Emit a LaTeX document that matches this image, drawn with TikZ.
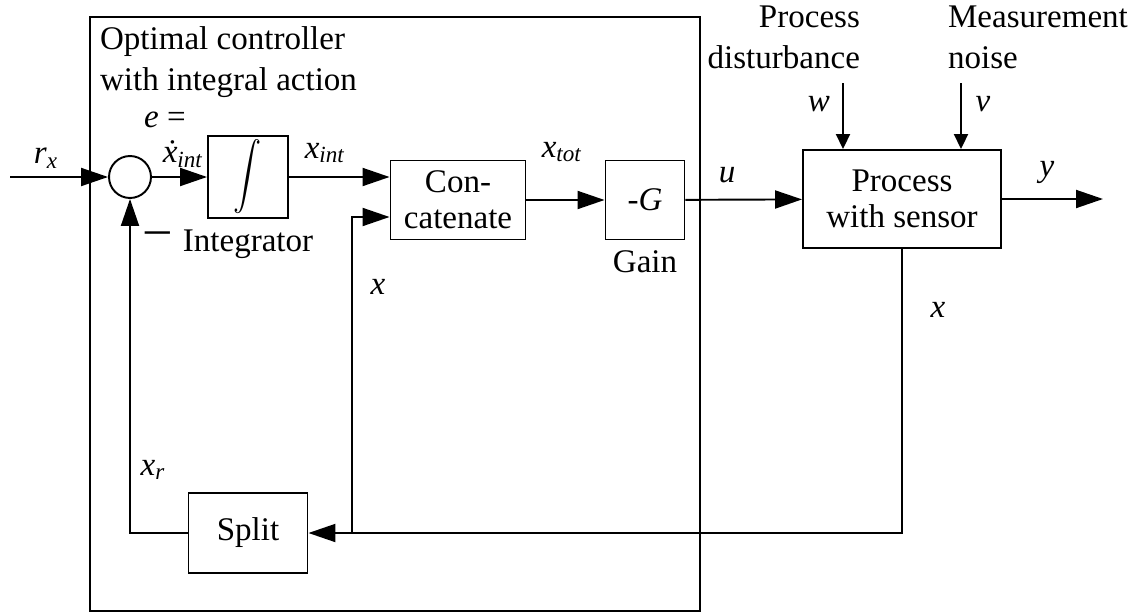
\documentclass[tikz,border=0pt]{standalone}
\usepackage{fontspec}
\setmainfont{Liberation Serif}
\usetikzlibrary{arrows.meta,positioning}
\tikzset{
  >={Triangle[length=5.4mm,width=3.6mm]},
  every node/.style={font=\fontsize{18.8pt}{23.3pt}\selectfont},
  frame/.style={draw, line width=1.1pt, inner sep=0pt},
  block/.style={draw, line width=1.1pt, align=center, inner sep=2pt,
                font=\fontsize{18.8pt}{20.4pt}\selectfont},
  sumpt/.style={draw, circle, line width=1.1pt, minimum size=0.84cm, inner sep=0pt},
  txt/.style={align=center, inner sep=1pt},
  lbl/.style={inner sep=1pt},
  sig/.style={->, line width=1.1pt},
  dist/.style={-{Triangle[length=3mm,width=2.8mm]}, line width=1.1pt},
}
\newcommand{\vsub}[2]{\textit{#1}\textsubscript{\textit{#2}}}

\begin{document}
\begin{tikzpicture}[x=0.02cm,y=-0.02cm]
  \useasboundingbox (0,0) rectangle (1139,612);
  \node[frame,minimum width=12.2cm,minimum height=11.88cm] (ctrl) at (395,314) {};
  \node[txt,anchor=west,align=left] (title) at (98,62) {Optimal controller\\with integral action};
  \node[sumpt] (sum) at (130,177) {};
  \node[block,minimum width=1.6cm,minimum height=1.58cm] (integ) at (248,177)
    {\scalebox{1.6}[1.9]{$\displaystyle\int$}};
  \node[block,minimum width=2.7cm,minimum height=1.58cm] (concat) at (458,200) {Con-\\catenate};
  \node[block,minimum width=1.58cm,minimum height=1.58cm] (gain) at (645,200) {-\textit{G}};
  \node[block,minimum width=3.96cm,minimum height=1.96cm] (proc) at (902,199) {Process\\with sensor};
  \node[block,minimum width=2.38cm,minimum height=1.6cm] (split) at (248,533) {Split};
  \coordinate (rin) at (10,177);
  \coordinate (yout) at (1103,199);
  \coordinate (wtop) at (843,83);
  \coordinate (vtop) at (961,83);
  \coordinate (tap) at (352,533);
  \draw[sig] (rin) -- (sum);
  \draw[sig] (sum) -- (integ);
  \draw[sig] (integ) -- (integ -| concat.west);
  \draw[sig] (concat) -- (gain);
  \draw[sig] (gain) -- (proc);
  \draw[sig] (proc) -- (yout);
  \draw[dist] (wtop) -- (wtop |- proc.north);
  \draw[dist] (vtop) -- (vtop |- proc.north);
  \draw[sig] (proc.south) |- (split);
  \draw[sig] (tap) |- ([yshift=-0.34cm]concat.west);
  \draw[sig] (split) -| (sum);
  \foreach \x/\y/\txt [count=\i] in {46/158/\vsub{r}{x}, 183/154/\vsub{\.{x}}{int},
      325/153/\vsub{x}{int}, 562/152/\vsub{x}{tot}, 727/175/\textit{u}, 378/287/\textit{x},
      819/104/\textit{w}, 983/104/\textit{v}, 1047/172/\textit{y}, 938/310/\textit{x},
      153/470/\vsub{x}{r}}
    \node[lbl] (var\i) at (\x,\y) {\txt};
  \node[lbl] (eq) at (165,120) {\textit{e} =};
  \node[lbl] (minus) at (158,238) {\fontsize{28pt}{28pt}\selectfont –};
  \node[lbl] (integlbl) at (248,244) {Integrator};
  \node[lbl] (gainlbl) at (645,262) {Gain};
  \node[txt,anchor=east,align=right] (wlbl) at (862,37) {Process\\disturbance};
  \node[txt,anchor=west,align=left] (vlbl) at (946,37) {Measurement\\noise};
\end{tikzpicture}
\end{document}
